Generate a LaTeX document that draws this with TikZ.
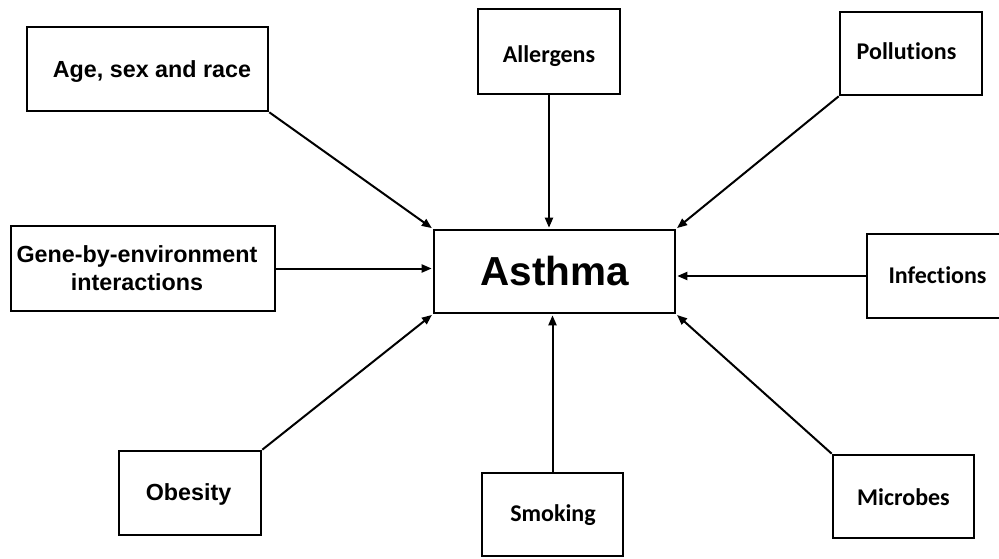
\documentclass[tikz,border=0pt]{standalone}
\usepackage{fontspec}
\setmainfont{Liberation Sans}
\newfontfamily\calfont[Ligatures=NoCommon]{Carlito}
\usetikzlibrary{arrows.meta}
\tikzset{
  box/.style={draw=black, line width=2.6pt, rectangle, inner sep=0pt, fill=white},
  arr/.style={line width=2pt, -{Triangle[length=10pt,width=8pt]}, shorten >=1pt},
  atext/.style={anchor=base, inner sep=0pt, font=\fontsize{23.3}{28}\selectfont\bfseries},
  ctext/.style={anchor=base, inner sep=0pt, font=\fontsize{24}{28}\selectfont\calfont\bfseries},
}
\begin{document}
\begin{tikzpicture}[x=1pt,y=-1pt]
\useasboundingbox (0,0) rectangle (999,559);
\fill[white] (0,0) rectangle (999,559);
% boxes
\node[box, minimum width=241pt, minimum height=84pt] (age) at (147.5,69) {};
\node[box, minimum width=142pt, minimum height=85pt] (all) at (549,51.5) {};
\node[box, minimum width=142pt, minimum height=83pt] (pol) at (911,53.5) {};
\node[box, minimum width=264pt, minimum height=85pt] (gene) at (143,268.5) {};
\node[box, minimum width=241pt, minimum height=83pt] (ast) at (554.5,271.5) {};
\node[box, minimum width=138pt, minimum height=84pt] (inf) at (936,276) {};
\node[box, minimum width=142pt, minimum height=84pt] (obe) at (190,493) {};
\node[box, minimum width=141pt, minimum height=83pt] (smk) at (552.5,514.5) {};
\node[box, minimum width=141pt, minimum height=83pt] (mic) at (903.5,496.5) {};
% texts
\node[atext] (tage) at (152,78) {Age, sex and race};
\node[ctext] (tall) at (549,63) {Allergens};
\node[ctext] (tpol) at (906.5,60) {Pollutions};
\node[atext] (tgene1) at (137,262) {Gene-by-environment};
\node[atext] (tgene2) at (137,290) {interactions};
\node[anchor=base, inner sep=0pt, font=\fontsize{40.5}{48}\selectfont\bfseries] (tast) at (555,285) {Asthma};
\node[ctext] (tinf) at (937.5,283) {Infections};
\node[atext] (tobe) at (188.5,500) {Obesity};
\node[ctext] (tsmk) at (553,521) {Smoking};
\node[ctext] (tmic) at (903.5,505) {Microbes};
% arrows
\draw[arr] (age.south east) -- (ast.north west);
\draw[arr] (all.south) -- (all.south |- ast.north);
\draw[arr] (pol.south west) -- (ast.north east);
\draw[arr] (gene.east) -- (gene.east -| ast.west);
\draw[arr] (inf.west) -- (inf.west -| ast.east);
\draw[arr] (obe.north east) -- (ast.south west);
\draw[arr] (smk.north) -- (smk.north |- ast.south);
\draw[arr] (mic.north west) -- (ast.south east);
\end{tikzpicture}
\end{document}
